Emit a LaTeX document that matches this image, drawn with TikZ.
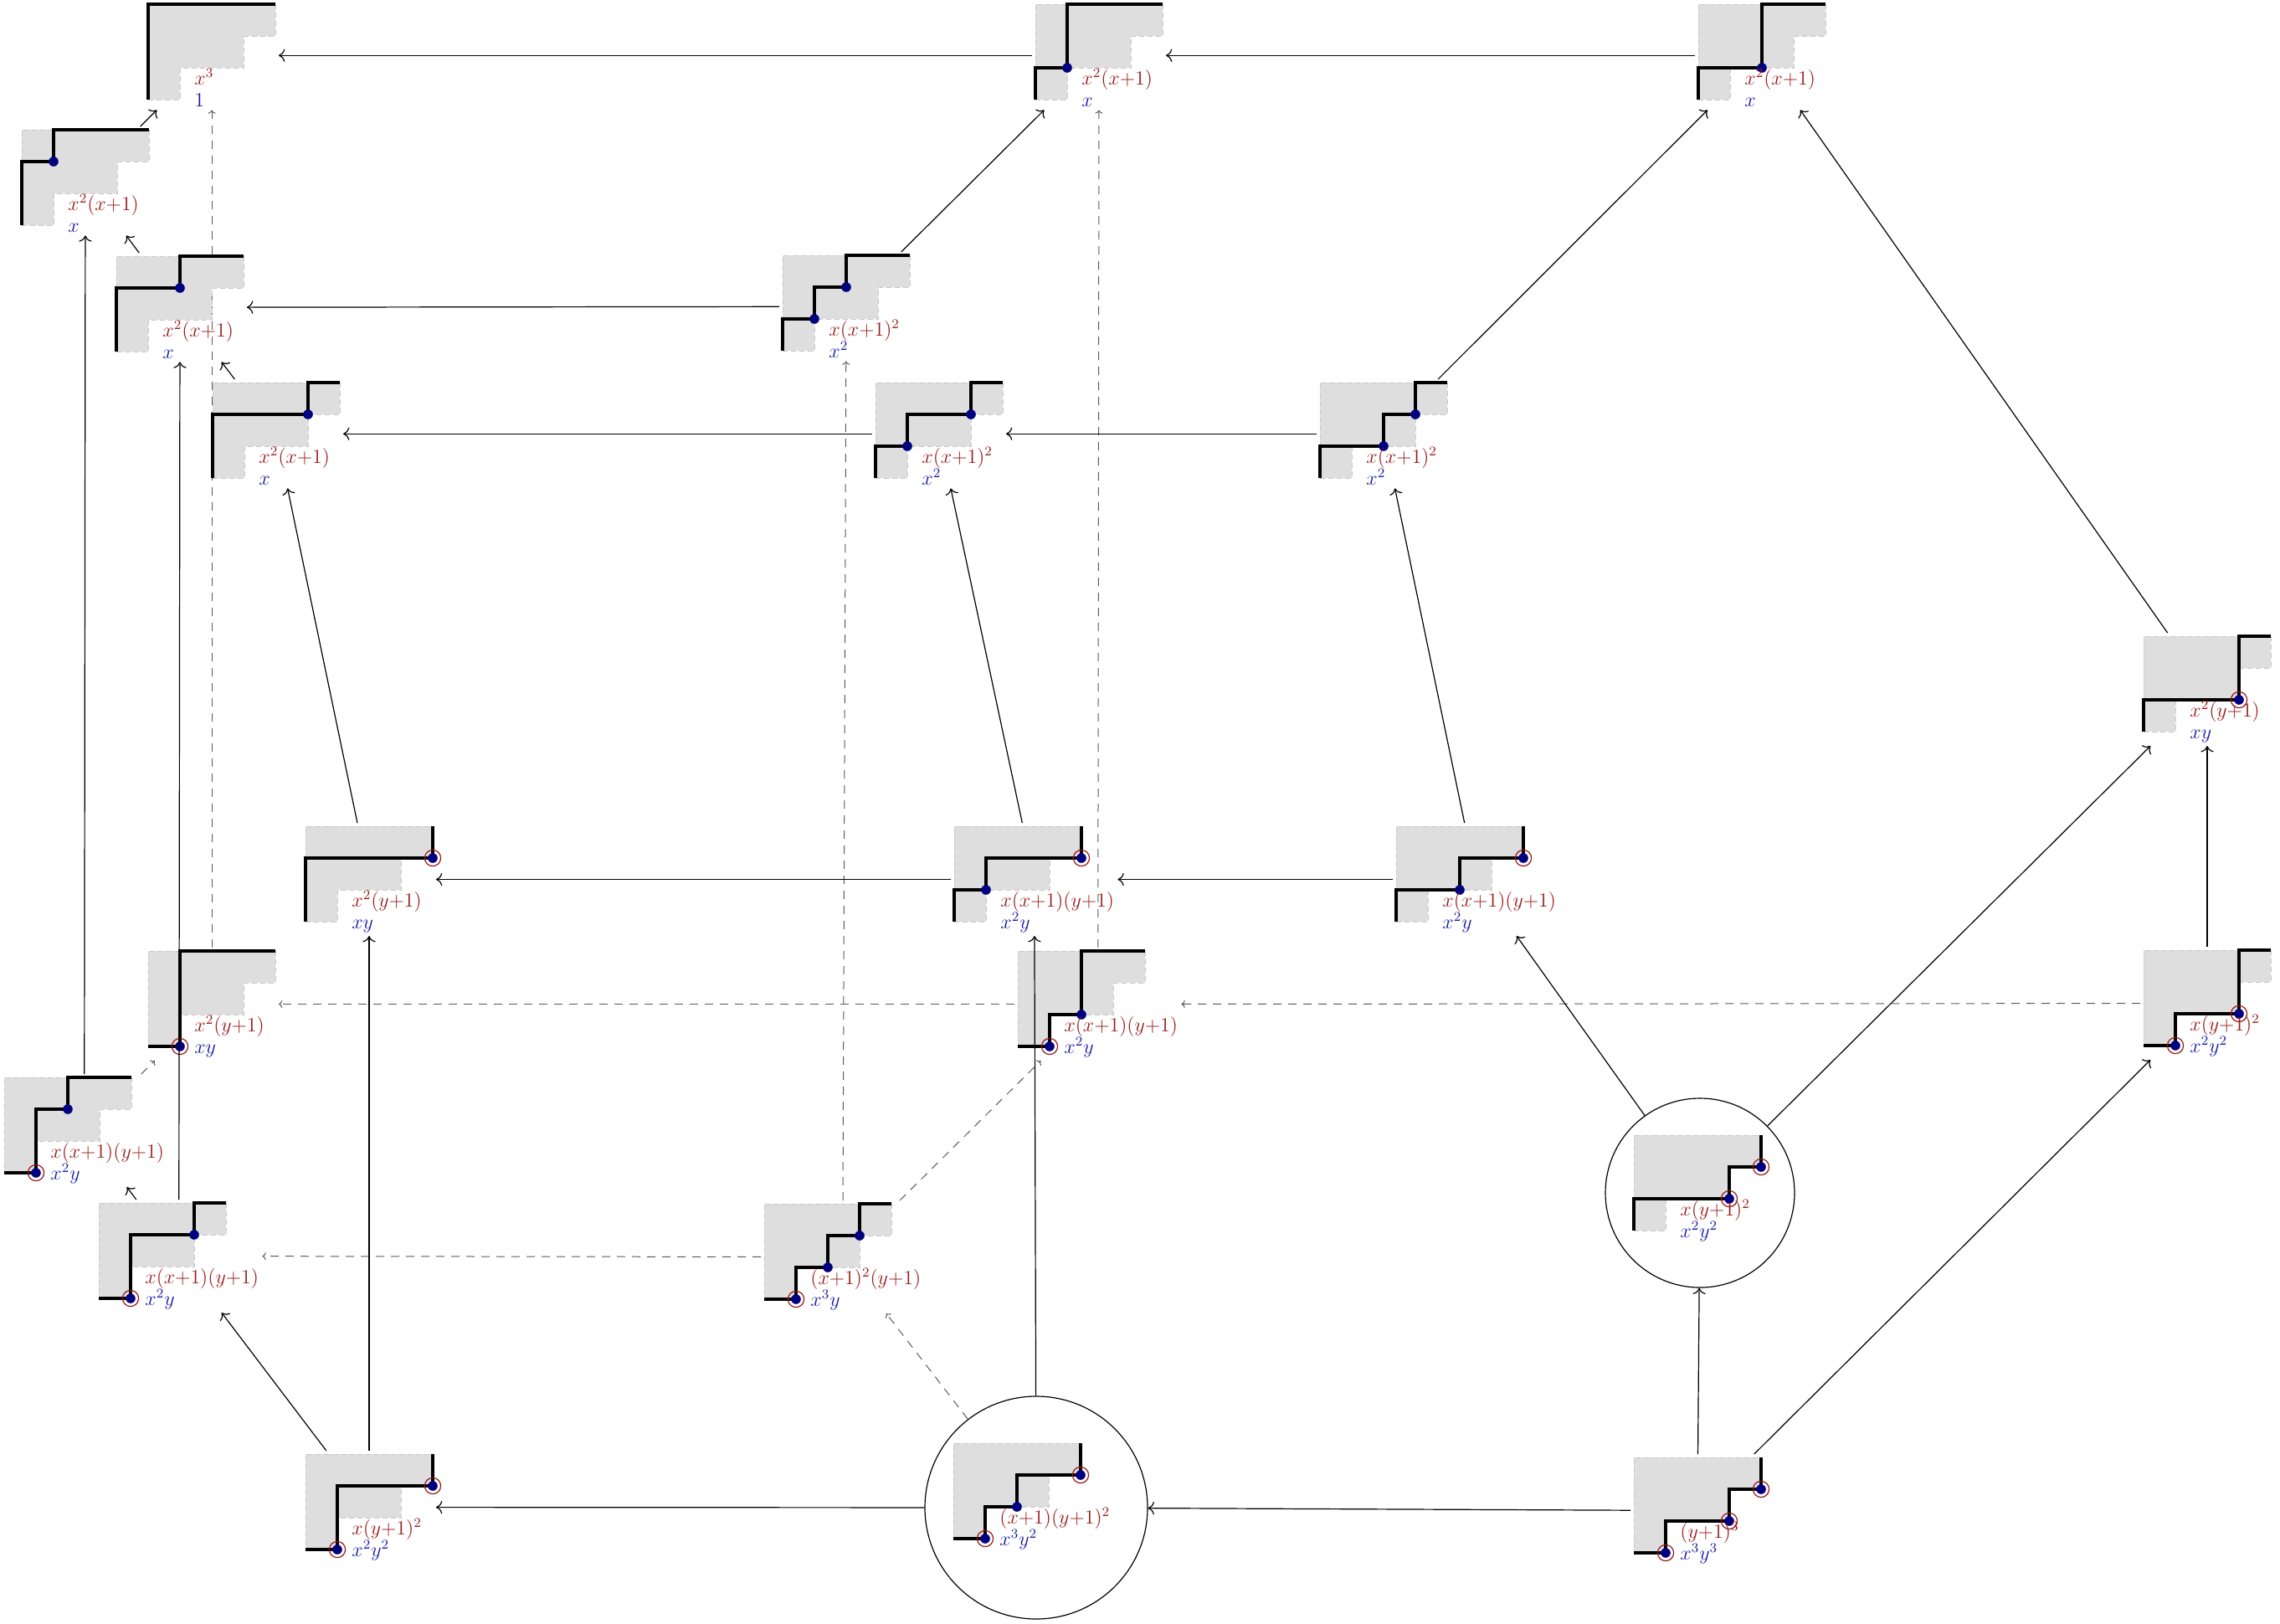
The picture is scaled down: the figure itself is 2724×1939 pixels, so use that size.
\documentclass[tikz,border=0pt]{standalone}
\usetikzlibrary{arrows.meta,fit}
\definecolor{lred}{RGB}{155,25,25}
\definecolor{lblue}{RGB}{25,25,165}
\definecolor{dotblue}{RGB}{0,0,128}
\definecolor{ringred}{RGB}{150,20,20}
\definecolor{cellgray}{RGB}{222,222,222}
\definecolor{cellborder}{RGB}{200,200,200}
\tikzset{
  shapefill/.style={fill=cellgray},
  shapeborder/.style={draw=cellborder, line width=0.5pt, dash pattern=on 3pt off 2pt},
  lpath/.style={line width=2pt, black},
  redlab/.style={text=lred, anchor=base west, inner sep=0pt, font=\fontsize{11.8}{13}\selectfont},
  bluelab/.style={text=lblue, anchor=base west, inner sep=0pt, font=\fontsize{11.8}{13}\selectfont},
  fitbox/.style={inner sep=0pt, outer sep=2pt, draw=none},
  solidarr/.style={-{To[scale=1.25]}, line width=0.6pt, black},
  hidarr/.style={-{To[scale=0.8]}, line width=0.5pt, draw=black!65, dash pattern=on 5pt off 4pt},
  ringnode/.style={circle, draw, line width=0.6pt, inner sep=0pt}
}
\newcommand\ydot[2]{\fill[dotblue] (#1,#2) circle (2.9pt);}
\newcommand\yring[2]{\fill[dotblue] (#1,#2) circle (2.9pt); \draw[ringred, line width=0.6pt] (#1,#2) circle (4.8pt);}
% first pass: only the frames of the nodes, so that hidden edges can go underneath
\newcommand\ydbox[6]{%
 \begin{scope}[shift={(#2)}]
  \coordinate (#1tl) at (0,0);
  \coordinate (#1br) at (152,114);
  \path (55,96) node[redlab, opacity=0] (#1r) {#5};
  \path (55,122) node[bluelab, opacity=0] (#1b) {#6};
 \end{scope}
 \node[fitbox, fit=(#1tl)(#1br)(#1r)(#1b)] (#1) {};
}
\newcommand\yddraw[6]{%
 \begin{scope}[shift={(#2)}]
  \begin{scope}[shift={(0,114)}, x=19pt, y=19pt]
   \path[shapefill] (0,0) -- (1,0) -- (1,1) -- (3,1) -- (3,2) -- (4,2) -- (4,3) -- (0,3) -- cycle;
   \draw[shapeborder] (0,0) -- (1,0) -- (1,1) -- (3,1) -- (3,2) -- (4,2) -- (4,3) -- (0,3) -- cycle;
   \draw[lpath] #3;
   #4
  \end{scope}
 \end{scope}
 \node[redlab, at=(#1r.base west)] {#5};
 \node[bluelab, at=(#1b.base west)] {#6};
}
\newcommand\alldiagrams[1]{%
#1{A}{177,5}{(0,0) -- (0,3) -- (4,3)}{}{$x^3$}{$1$}
#1{B}{1237,5}{(0,0) -- (0,1) -- (1,1) -- (1,3) -- (4,3)}{\ydot{1}{1}}{$x^2(x{+}1)$}{$x$}
#1{C}{2029,5}{(0,0) -- (0,1) -- (2,1) -- (2,3) -- (4,3)}{\ydot{2}{1}}{$x^2(x{+}1)$}{$x$}
#1{D}{26,155}{(0,0) -- (0,2) -- (1,2) -- (1,3) -- (4,3)}{\ydot{1}{2}}{$x^2(x{+}1)$}{$x$}
#1{E}{139,306}{(0,0) -- (0,2) -- (2,2) -- (2,3) -- (4,3)}{\ydot{2}{2}}{$x^2(x{+}1)$}{$x$}
#1{F}{254,457}{(0,0) -- (0,2) -- (3,2) -- (3,3) -- (4,3)}{\ydot{3}{2}}{$x^2(x{+}1)$}{$x$}
#1{G}{935,305}{(0,0) -- (0,1) -- (1,1) -- (1,2) -- (2,2) -- (2,3) -- (4,3)}{\ydot{1}{1}\ydot{2}{2}}{$x(x{+}1)^2$}{$x^2$}
#1{H}{1046,457}{(0,0) -- (0,1) -- (1,1) -- (1,2) -- (3,2) -- (3,3) -- (4,3)}{\ydot{1}{1}\ydot{3}{2}}{$x(x{+}1)^2$}{$x^2$}
#1{I}{1577,457}{(0,0) -- (0,1) -- (2,1) -- (2,2) -- (3,2) -- (3,3) -- (4,3)}{\ydot{2}{1}\ydot{3}{2}}{$x(x{+}1)^2$}{$x^2$}
#1{J}{365,987}{(0,0) -- (0,2) -- (4,2) -- (4,3)}{\yring{4}{2}}{$x^2(y{+}1)$}{$xy$}
#1{K}{1140,987}{(0,0) -- (0,1) -- (1,1) -- (1,2) -- (4,2) -- (4,3)}{\ydot{1}{1}\yring{4}{2}}{$x(x{+}1)(y{+}1)$}{$x^2y$}
#1{L}{1668,987}{(0,0) -- (0,1) -- (2,1) -- (2,2) -- (4,2) -- (4,3)}{\ydot{2}{1}\yring{4}{2}}{$x(x{+}1)(y{+}1)$}{$x^2y$}
#1{M}{2561,760}{(0,0) -- (0,1) -- (3,1) -- (3,3) -- (4,3)}{\yring{3}{1}}{$x^2(y{+}1)$}{$xy$}
#1{N}{177,1136}{(0,0) -- (1,0) -- (1,3) -- (4,3)}{\yring{1}{0}}{$x^2(y{+}1)$}{$xy$}
#1{O}{1216,1136}{(0,0) -- (1,0) -- (1,1) -- (2,1) -- (2,3) -- (4,3)}{\yring{1}{0}\ydot{2}{1}}{$x(x{+}1)(y{+}1)$}{$x^2y$}
#1{P}{2561,1135}{(0,0) -- (1,0) -- (1,1) -- (3,1) -- (3,3) -- (4,3)}{\yring{1}{0}\yring{3}{1}}{$x(y{+}1)^2$}{$x^2y^2$}
#1{Q}{5,1287}{(0,0) -- (1,0) -- (1,2) -- (2,2) -- (2,3) -- (4,3)}{\yring{1}{0}\ydot{2}{2}}{$x(x{+}1)(y{+}1)$}{$x^2y$}
#1{R}{118,1437}{(0,0) -- (1,0) -- (1,2) -- (3,2) -- (3,3) -- (4,3)}{\yring{1}{0}\ydot{3}{2}}{$x(x{+}1)(y{+}1)$}{$x^2y$}
#1{S}{913,1438}{(0,0) -- (1,0) -- (1,1) -- (2,1) -- (2,2) -- (3,2) -- (3,3) -- (4,3)}{\yring{1}{0}\ydot{2}{1}\ydot{3}{2}}{$(x{+}1)^2(y{+}1)$}{$x^3y$}
#1{Tin}{1952,1356}{(0,0) -- (0,1) -- (3,1) -- (3,2) -- (4,2) -- (4,3)}{\yring{3}{1}\yring{4}{2}}{$x(y{+}1)^2$}{$x^2y^2$}
#1{U}{365,1737}{(0,0) -- (1,0) -- (1,2) -- (4,2) -- (4,3)}{\yring{1}{0}\yring{4}{2}}{$x(y{+}1)^2$}{$x^2y^2$}
#1{Vin}{1139,1724}{(0,0) -- (1,0) -- (1,1) -- (2,1) -- (2,2) -- (4,2) -- (4,3)}{\yring{1}{0}\ydot{2}{1}\yring{4}{2}}{$(x{+}1)(y{+}1)^2$}{$x^3y^2$}
#1{W}{1952,1741}{(0,0) -- (1,0) -- (1,1) -- (3,1) -- (3,2) -- (4,2) -- (4,3)}{\yring{1}{0}\yring{3}{1}\yring{4}{2}}{$(y{+}1)^3$}{$x^3y^3$}
}
\begin{document}
\begin{tikzpicture}[x=0.5pt,y=-0.5pt]
\useasboundingbox (0,0) rectangle (2724,1939);
% circles
\node[ringnode, minimum size=113pt] (T) at (2031,1425) {};
\node[ringnode, minimum size=133pt] (V) at (1238,1801) {};
% node frames
\alldiagrams\ydbox
% hidden (dashed) edges, underneath the diagrams
\draw[hidarr] (N) -- (A);
\draw[hidarr] (O) -- (B);
\draw[hidarr] (S) -- (G);
\draw[hidarr] (O) -- (N);
\draw[hidarr] (P) -- (O);
\draw[hidarr] (S) -- (R);
\draw[hidarr] (S) -- (O);
\draw[hidarr] (Q) -- (N);
\draw[hidarr] (V) -- (S);
% diagrams
\alldiagrams\yddraw
% solid edges
\draw[solidarr] (B) -- (A);
\draw[solidarr] (C) -- (B);
\draw[solidarr] (D) -- (A);
\draw[solidarr] (E) -- (D);
\draw[solidarr] (F) -- (E);
\draw[solidarr] (G) -- (B);
\draw[solidarr] (G) -- (E);
\draw[solidarr] (H) -- (F);
\draw[solidarr] (I) -- (H);
\draw[solidarr] (I) -- (C);
\draw[solidarr] (M) -- (C);
\draw[solidarr] (J) -- (F);
\draw[solidarr] (K) -- (H);
\draw[solidarr] (L) -- (I);
\draw[solidarr] (K) -- (J);
\draw[solidarr] (L) -- (K);
\draw[solidarr] (Q) -- (D);
\draw[solidarr] (R) -- (E);
\draw[solidarr] (U) -- (J);
\draw[solidarr] (V) -- (K);
\draw[solidarr] (T) -- (L);
\draw[solidarr] (T) -- (M);
\draw[solidarr] (P) -- (M);
\draw[solidarr] (W) -- (T);
\draw[solidarr] (W) -- (P);
\draw[solidarr] (V) -- (U);
\draw[solidarr] (W) -- (V);
\draw[solidarr] (U) -- (R);
\draw[solidarr] (R) -- (Q);
\end{tikzpicture}
\end{document}
